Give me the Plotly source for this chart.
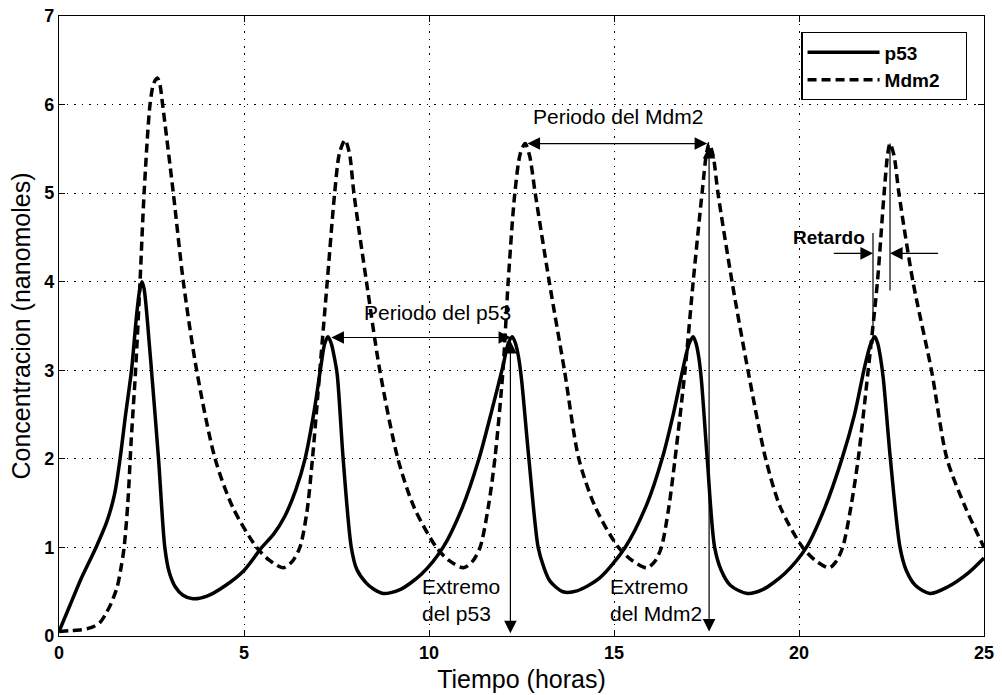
import plotly.graph_objects as go

# ---- data ----
t_p53 = [0, 0.3, 0.6, 1.0, 1.3, 1.5, 1.65, 1.8, 1.96, 2.08, 2.17, 2.24, 2.3, 2.37, 2.43, 2.5,
         2.69, 2.86, 2.98, 3.15, 3.35, 3.62, 4.0, 4.5, 5.0, 5.48, 5.8, 6.1, 6.4, 6.65, 6.9, 7.08,
         7.18, 7.27, 7.36, 7.44, 7.52, 7.68, 7.9, 8.05, 8.3, 8.5, 8.76, 9.2, 9.8, 10.38, 10.9,
         11.35, 11.7, 12.0, 12.14, 12.25, 12.34, 12.42, 12.5, 12.7, 12.95, 13.1, 13.27, 13.62,
         14.0, 14.6, 15.3, 15.9, 16.3, 16.6, 16.88, 17.03, 17.14, 17.22, 17.29, 17.36, 17.52,
         17.72, 17.9, 18.15, 18.6, 19.0, 19.6, 20.2, 20.7, 21.16, 21.5, 21.78, 21.94, 22.05,
         22.13, 22.2, 22.28, 22.47, 22.73, 22.9, 23.15, 23.54, 24.0, 24.57, 25.0]
p53 = [0.05, 0.35, 0.65, 1.0, 1.3, 1.6, 2.0, 2.5, 3.0, 3.55, 3.88, 4.0, 3.92, 3.65, 3.35, 3.0,
       2.0, 1.0, 0.72, 0.55, 0.46, 0.42, 0.45, 0.57, 0.74, 1.0, 1.15, 1.35, 1.65, 2.0, 2.55, 3.05,
       3.3, 3.38, 3.3, 3.15, 2.95, 2.0, 1.0, 0.75, 0.6, 0.53, 0.48, 0.52, 0.7, 1.0, 1.45,
       2.0, 2.55, 3.05, 3.3, 3.38, 3.3, 3.15, 2.9, 2.0, 1.0, 0.78, 0.62, 0.5,
       0.51, 0.65, 1.0, 1.5, 2.0, 2.5, 3.05, 3.3, 3.38, 3.3, 3.15, 2.9, 2.0,
       1.0, 0.74, 0.57, 0.48, 0.52, 0.7, 1.0, 1.45, 2.0, 2.5, 3.05, 3.3, 3.38,
       3.3, 3.15, 2.9, 2.0, 1.0, 0.74, 0.57, 0.48, 0.55, 0.71, 0.88]

t_mdm2 = [0, 0.3, 0.6, 0.9, 1.1, 1.25, 1.4, 1.57, 1.68, 1.76, 1.86, 1.95, 2.07, 2.19, 2.3, 2.46,
          2.56, 2.66, 2.73, 2.8, 3.09, 3.36, 3.72, 4.22, 4.7, 5.34, 5.7, 6.06, 6.3, 6.51, 6.7,
          6.85, 7.05, 7.25, 7.45, 7.58, 7.73, 7.85, 7.97, 8.31, 8.67, 9.16, 9.6, 10.2, 10.55,
          10.93, 11.17, 11.38, 11.6, 11.78, 12.0, 12.14, 12.32, 12.47, 12.6, 12.72, 12.87, 13.25,
          13.66, 14.05, 14.5, 15.12, 15.5, 15.88, 16.1, 16.28, 16.48, 16.65, 16.92, 17.14,
          17.38, 17.5, 17.57, 17.68, 17.81, 18.19, 18.62, 19.1, 19.5, 20.1, 20.45, 20.82, 21.0,
          21.18, 21.4, 21.6, 21.87, 22.12, 22.3, 22.4, 22.46, 22.57, 22.7, 23.08, 23.58, 24.0,
          24.5, 25.0]
mdm2 = [0.05, 0.06, 0.07, 0.1, 0.15, 0.24, 0.36, 0.55, 0.78, 1.0, 1.5, 2.2, 3.0, 4.0, 5.0, 6.0,
        6.24, 6.3, 6.22, 6.0, 5.0, 4.0, 3.0, 2.0, 1.45, 1.0, 0.85, 0.77, 0.84, 1.0, 1.4,
        2.0, 3.0, 4.0, 5.0, 5.45, 5.6, 5.45, 5.0, 4.0, 3.0, 2.0, 1.45, 1.0, 0.85,
        0.77, 0.84, 1.0, 1.45, 2.0, 3.0, 4.0, 5.0, 5.45, 5.56, 5.42, 5.0, 4.0,
        3.0, 2.0, 1.45, 1.0, 0.85, 0.77, 0.84, 1.0, 1.45, 2.0, 3.0, 4.0,
        5.0, 5.45, 5.56, 5.42, 5.0, 4.0, 3.0, 2.0, 1.45, 1.0, 0.85, 0.77, 0.84,
        1.0, 1.45, 2.0, 3.0, 4.0, 5.0, 5.45, 5.56, 5.42, 5.0, 4.0, 3.0, 2.0,
        1.45, 1.0]

x_ticks = [0, 5, 10, 15, 20, 25]
y_ticks = [0, 1, 2, 3, 4, 5, 6, 7]

FONT = "Liberation Sans, Arial, sans-serif"
PAD = "\u00a0" * 4

fig = go.Figure()
fig.add_trace(go.Scatter(x=t_p53, y=p53, mode="lines", name="p53",
                         line=dict(color="black", width=3.5, shape="spline", smoothing=0.8)))
fig.add_trace(go.Scatter(x=t_mdm2, y=mdm2, mode="lines", name="Mdm2" + PAD,
                         line=dict(color="black", width=3.5, dash="9px,5px",
                                   shape="spline", smoothing=0.8)))

def arrow(x0, y0, x1, y1, both=False):
    fig.add_annotation(x=x1, y=y1, ax=x0, ay=y0, xref="x", yref="y", axref="x", ayref="y",
                       text="", showarrow=True, arrowhead=2, arrowsize=2.1, arrowwidth=1.2,
                       arrowcolor="black", arrowside="end+start" if both else "end",
                       standoff=0, startstandoff=0)

def vline(x, y0, y1):
    fig.add_shape(type="line", x0=x, x1=x, y0=y0, y1=y1, xref="x", yref="y",
                  line=dict(color="black", width=1.2))

# Periodo del p53
arrow(7.32, 3.37, 12.22, 3.37, both=True)
# Periodo del Mdm2
arrow(12.62, 5.56, 17.52, 5.56, both=True)
# Extremo del p53
arrow(12.2, 3.35, 12.2, 0.03, both=True)
# Extremo del Mdm2
arrow(17.57, 5.55, 17.57, 0.05, both=True)
# Retardo
vline(22.0, 3.3, 4.55)
vline(22.46, 3.9, 5.56)
arrow(20.9, 4.32, 22.0, 4.32)
arrow(23.8, 4.32, 22.46, 4.32)

ann_font = dict(family=FONT, size=21, color="black")
fig.add_annotation(x=10.22, y=3.65, text="Periodo del p53", showarrow=False, font=ann_font)
fig.add_annotation(x=15.1, y=5.86, text="Periodo del Mdm2", showarrow=False, font=ann_font)
fig.add_annotation(x=21.85, y=4.5, text="Retardo", showarrow=False, xanchor="right",
                   font=dict(family=FONT, size=19, color="black", weight="bold"))
fig.add_annotation(x=9.76, y=0.41, text="Extremo<br>del p53", showarrow=False,
                   xanchor="left", align="left", font=ann_font)
fig.add_annotation(x=14.84, y=0.41, text="Extremo<br>del Mdm2", showarrow=False,
                   xanchor="left", align="left", font=ann_font)

axis_common = dict(showline=True, linecolor="black", linewidth=1.2, mirror="ticks",
                   ticks="inside", ticklen=6, tickcolor="black", showgrid=True,
                   gridcolor="black", gridwidth=1, griddash="1.5px,6px", zeroline=False,
                   tickfont=dict(family=FONT, size=18, color="black", weight="bold"))

fig.update_layout(
    width=1002, height=695,
    margin=dict(l=59, r=18, t=16, b=59),
    paper_bgcolor="white", plot_bgcolor="white",
    font=dict(family=FONT, color="black"),
    xaxis=dict(range=[0, 25], tickvals=x_ticks, automargin=False,
               title=dict(text="Tiempo (horas)", font=dict(family=FONT, size=25, color="black"),
                          standoff=8),
               **axis_common),
    yaxis=dict(range=[0, 7], tickvals=y_ticks, automargin=False,
               title=dict(text="Concentracion (nanomoles)",
                          font=dict(family=FONT, size=25, color="black"), standoff=6),
               **axis_common),
    legend=dict(x=0.982, y=0.974, xanchor="right", yanchor="top",
                bgcolor="white", bordercolor="black", borderwidth=1.2,
                font=dict(family=FONT, size=19, color="black", weight="bold"),
                itemwidth=72, tracegroupgap=0),
    showlegend=True,
)

fig.write_html("out.html", config={"displayModeBar": False},
               post_script="document.body.style.margin='0';")
